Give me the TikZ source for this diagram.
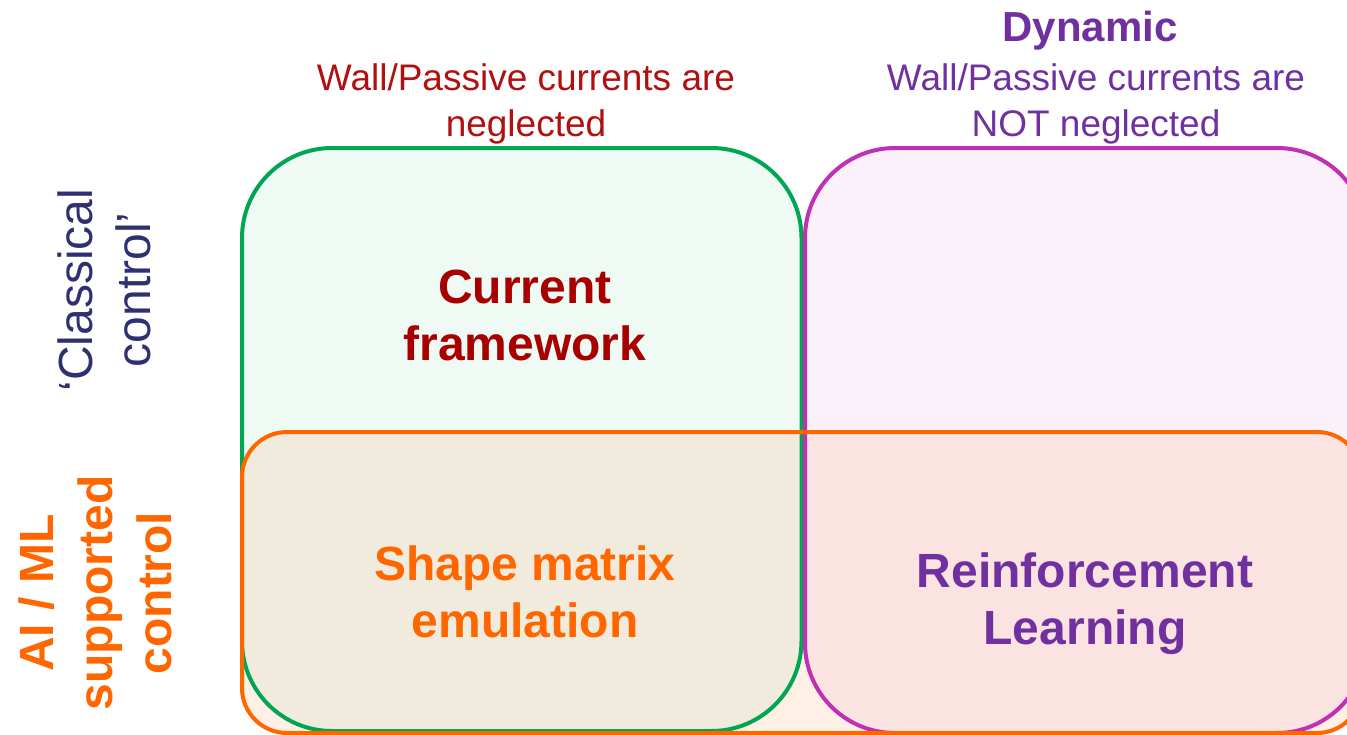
\documentclass[tikz,border=0pt]{standalone}
\usepackage{fontspec}
\setmainfont{Liberation Sans}
\usepackage{xcolor}
\usetikzlibrary{positioning}

\definecolor{grnline}{HTML}{00A651}
\definecolor{pplline}{HTML}{BF30B5}
\definecolor{orgline}{HTML}{FF6600}
\definecolor{darkred}{HTML}{A80000}
\definecolor{hdred}{HTML}{B01010}
\definecolor{ppltext}{HTML}{7030A0}
\definecolor{navytext}{HTML}{2E3070}

\begin{document}
\begin{tikzpicture}[x=1pt, y=-1pt]
\tikzset{
  quad/.style   ={rectangle, line width=4pt, outer sep=0pt, inner sep=0pt},
  stbox/.style  ={quad, draw=grnline, fill=grnline, fill opacity=0.06,
                  rounded corners=90pt},
  dynbox/.style ={quad, draw=pplline, fill=pplline, fill opacity=0.065,
                  rounded corners=90pt},
  aibox/.style  ={quad, fill=orgline, fill opacity=0.1,
                  rounded corners=45pt},
  aiedge/.style ={draw=orgline, line width=4pt, rounded corners=45pt},
  title/.style  ={align=center, inner sep=0pt,
                  font=\fontsize{48}{57}\selectfont\bfseries},
  head/.style   ={align=center, inner sep=0pt,
                  font=\fontsize{37}{46}\selectfont},
  side/.style   ={align=center, inner sep=0pt, rotate=90,
                  font=\fontsize{48}{58}\selectfont}
}
\useasboundingbox (0,0) rectangle (1347,734);
\clip (0,0) rectangle (1347,734);

%% ----- Quadrant boxes -----
\node[aibox, minimum width=1120, minimum height=301] (ai) at (802,582.5) {};
\node[stbox, minimum width=559.5, minimum height=583] (stat) at (521.75,439.5) {};
\node[dynbox, minimum width=562, minimum height=585] (dyn) at (1086,440.5) {};
\draw[aiedge] (ai.south west) rectangle (ai.north east);

%% ----- Column headers -----
\node[head, text=hdred] (neglect) at (526,104)
  {Wall/Passive currents are\\neglected};
\node[title, text=ppltext, font=\fontsize{42}{50}\selectfont\bfseries]
  (dynhead) at (1090,31) {Dynamic};
\node[head, text=ppltext] (notneglect) at (1096,104)
  {Wall/Passive currents are\\NOT neglected};

%% ----- Row labels -----
\node[side, text=navytext] (classic) at (104,290)
  {`Classical\\control'};
\node[side, text=orgline, font=\fontsize{48}{59}\selectfont\bfseries]
  (aiml) at (95,593) {AI / ML\\supported\\control};

%% ----- Quadrant titles -----
\node[title, text=darkred] (curfw) at (525,315) {Current\\framework};
\node[title, text=orgline] (shape) at (525,592) {Shape matrix\\emulation};
\node[title, text=ppltext] (rl) at (1085,604) {Reinforcement\\Learning};

\end{tikzpicture}
\end{document}
